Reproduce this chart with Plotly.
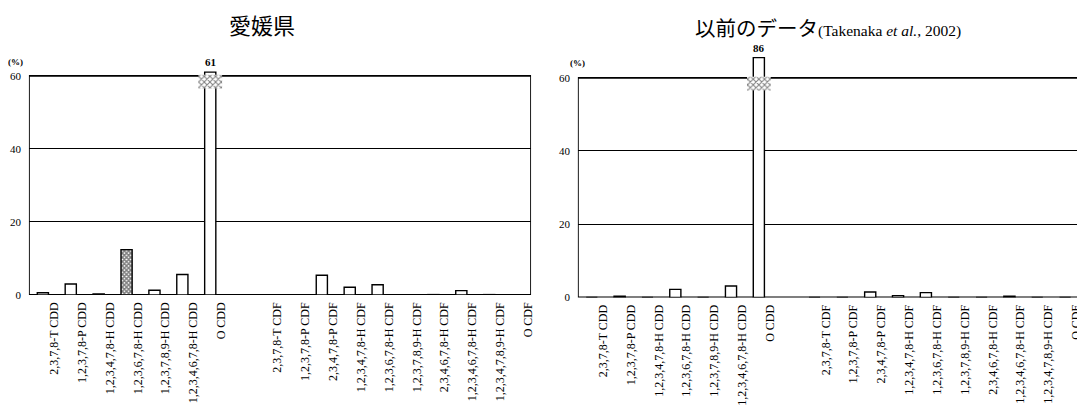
import plotly.graph_objects as go

# ---------------- data ----------------
dd_labels = ["2,3,7,8-T CDD", "1,2,3,7,8-P CDD", "1,2,3,4,7,8-H CDD", "1,2,3,6,7,8-H CDD",
             "1,2,3,7,8,9-H CDD", "1,2,3,4,6,7,8-H CDD", "O CDD"]
df_labels = ["2,3,7,8-T CDF", "1,2,3,7,8-P CDF", "2,3,4,7,8-P CDF", "1,2,3,4,7,8-H CDF",
             "1,2,3,6,7,8-H CDF", "1,2,3,7,8,9-H CDF", "2,3,4,6,7,8-H CDF",
             "1,2,3,4,6,7,8-H CDF", "1,2,3,4,7,8,9-H CDF", "O CDF"]

ehime_dd = [0.6, 3.0, 0.3, 12.4, 1.3, 5.6, 61]
ehime_df = [0.0, 0.0, 5.4, 2.1, 2.8, 0.0, 0.1, 1.2, 0.1, 0.0]
prev_dd = [0.0, 0.3, 0.0, 2.2, 0.0, 3.1, 86]
prev_df = [0.0, 0.0, 1.5, 0.5, 1.3, 0.0, 0.0, 0.3, 0.0, 0.0]

y_ticks = [0, 20, 40, 60]
title_left = "愛媛県"
title_right = ("以前のデータ<span style='font-family:Liberation Serif;font-size:15.5px'>"
               "(Takenaka <i>et al.</i>, 2002)</span>")
hatched_left = {"1,2,3,6,7,8-H CDD"}

# ---------------- layout constants ----------------
WIN_W, WIN_H = 1085, 412
OFF = 8                      # page body margin
W, H = WIN_W - OFF, WIN_H - OFF
SERIF = "Liberation Serif, Times New Roman, serif"
CJK = "Noto Sans CJK JP, Noto Sans CJK SC, sans-serif"


def px_x(x):
    return (x - OFF) / W


def px_y(y):
    return 1 - (y - OFF) / H


labels = dd_labels + df_labels
positions = list(range(len(dd_labels))) + [len(dd_labels) + 1 + i for i in range(len(df_labels))]
n_slots = len(dd_labels) + 1 + len(df_labels)

panels = [
    dict(values=ehime_dd + ehime_df, x_px=(29, 533), y0_px=299.0, y60_px=76.0, top=61.4,
         hatched=hatched_left, title=title_left, title_xy=(263, 23), title_size=22,
         pct_xy=(16, 62)),
    dict(values=prev_dd + prev_df, x_px=(580, 1083), y0_px=301.5, y60_px=78.0, top=65.8,
         hatched=set(), title=title_right, title_xy=(831, 26), title_size=20.5,
         pct_xy=(580, 63)),
]

fig = go.Figure()
annotations = []
shapes = []
layout_axes = {}

for k, p in enumerate(panels):
    sfx = "" if k == 0 else str(k + 1)
    xa, ya = "x" + sfx, "y" + sfx
    ppu = (p["y0_px"] - p["y60_px"]) / 60.0
    top_px = p["y0_px"] - p["top"] * ppu
    ydom = [px_y(p["y0_px"]), px_y(top_px)]
    xdom = [px_x(p["x_px"][0]), px_x(p["x_px"][1])]
    cap = p["top"] - 0.3
    shown = [min(v, cap) for v in p["values"]]
    patterns = ["x" if lab in p["hatched"] else "" for lab in labels]

    fig.add_trace(go.Bar(
        x=positions, y=shown, width=0.4, xaxis=xa, yaxis=ya,
        marker=dict(color="white", line=dict(color="black", width=1.4),
                    pattern=dict(shape=patterns, fgcolor="black", bgcolor="white",
                                 size=3, solidity=0.75)),
        showlegend=False, hoverinfo="skip"))

    # axis break marks for values beyond the frame
    broken = [(positions[i], v) for i, v in enumerate(p["values"]) if v > 60]
    if broken:
        fig.add_trace(go.Bar(
            x=[b[0] for b in broken], y=[3.8] * len(broken), base=[56.5] * len(broken),
            width=0.85, xaxis=xa, yaxis=ya,
            marker=dict(color="white", line=dict(width=0),
                        pattern=dict(shape="x", fgcolor="black", bgcolor="white",
                                     size=4, solidity=0.45)),
            showlegend=False, hoverinfo="skip"))
        for bx, bv in broken:
            annotations.append(dict(x=bx, y=min(bv, cap), xref=xa, yref=ya, text=f"<b>{bv:g}</b>",
                                    showarrow=False, yanchor="bottom", yshift=2,
                                    font=dict(family=SERIF, size=11, color="black")))

    shapes.append(dict(type="rect", xref=xa, yref=ya, x0=-0.5, x1=n_slots - 0.5, y0=0, y1=60,
                       line=dict(color="black", width=1.8), layer="between"))

    annotations.append(dict(x=px_x(p["title_xy"][0]), y=px_y(p["title_xy"][1]), xref="paper",
                            yref="paper", text=p["title"], showarrow=False,
                            xanchor="center", yanchor="middle",
                            font=dict(family=CJK, size=p["title_size"], color="black")))
    annotations.append(dict(x=px_x(p["pct_xy"][0]), y=px_y(p["pct_xy"][1]), xref="paper",
                            yref="paper", text="<b>(%)</b>", showarrow=False,
                            xanchor="center", yanchor="middle",
                            font=dict(family=SERIF, size=9, color="black")))

    layout_axes["xaxis" + sfx] = dict(
        domain=xdom, range=[-0.5, n_slots - 0.5], anchor=ya,
        tickvals=[x + 0.4 for x in positions], ticktext=labels, tickangle=-90,
        showgrid=False, zeroline=False, showline=False, ticks="",
        ticklabelstandoff=4, tickfont=dict(family=SERIF, size=12, color="black"))
    layout_axes["yaxis" + sfx] = dict(
        domain=ydom, range=[0, p["top"]], anchor=xa,
        tickvals=y_ticks, ticktext=[str(t) for t in y_ticks],
        showgrid=True, gridcolor="black", gridwidth=1, zeroline=False, showline=False,
        ticks="", ticklabelstandoff=7, tickfont=dict(family=SERIF, size=11, color="black"))

fig.update_layout(
    width=W, height=H, margin=dict(l=0, r=0, t=0, b=0),
    paper_bgcolor="white", plot_bgcolor="white", barmode="overlay",
    annotations=annotations, shapes=shapes, **layout_axes)

fig.write_html("out.html")
